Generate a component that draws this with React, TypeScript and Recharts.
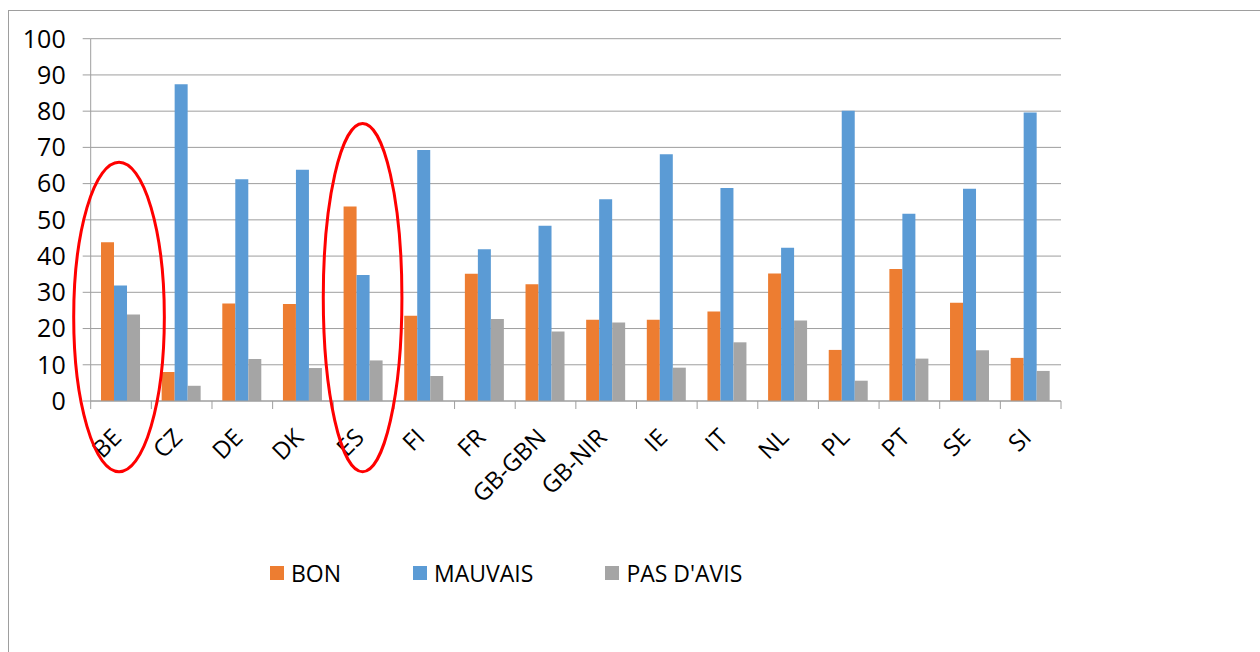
import { BarChart, Bar, XAxis, YAxis, CartesianGrid, Legend, ReferenceArea } from "recharts"

const categories = ["BE", "CZ", "DE", "DK", "ES", "FI", "FR", "GB-GBN", "GB-NIR", "IE", "IT", "NL", "PL", "PT", "SE", "SI"]
const bon = [43.8, 8, 26.9, 26.8, 53.7, 23.5, 35.1, 32.2, 22.4, 22.4, 24.7, 35.2, 14.1, 36.4, 27.1, 11.9]
const mauvais = [31.9, 87.4, 61.2, 63.8, 34.8, 69.3, 41.9, 48.4, 55.7, 68.1, 58.8, 42.3, 80.1, 51.7, 58.6, 79.6]
const pasDAvis = [23.9, 4.2, 11.6, 9.1, 11.2, 6.9, 22.6, 19.2, 21.7, 9.2, 16.2, 22.2, 5.6, 11.7, 14, 8.3]
const yTicks = [0, 10, 20, 30, 40, 50, 60, 70, 80, 90, 100]

// red circled annotations: category, value range covered, extra half-width in px
const highlights = [
  { cat: "BE", from: -19.5, to: 65.9, pad: 15, shift: -2 },
  { cat: "ES", from: -19.5, to: 76.6, pad: 9, shift: -1 },
]

const series = [
  { key: "bon", name: "BON", color: "#ED7D31" },
  { key: "mauvais", name: "MAUVAIS", color: "#5B9BD5" },
  { key: "pas", name: "PAS D'AVIS", color: "#A5A5A5" },
]

const data = categories.map((c, i) => ({ cat: c, bon: bon[i], mauvais: mauvais[i], pas: pasDAvis[i] }))

const FONT = "'Open Sans', 'Liberation Sans', sans-serif"
const LINE = "#9e9e9e"

function CategoryTick({ x, y, payload, index }: any) {
  const half = payload.offset || 0
  const ax = x + 2
  const ay = y + 38
  const isLast = index === categories.length - 1
  return (
    <g>
      <line x1={x - half} y1={y} x2={x - half} y2={y + 8} stroke={LINE} />
      {isLast && <line x1={x + half} y1={y} x2={x + half} y2={y + 8} stroke={LINE} />}
      <text
        x={ax}
        y={ay}
        transform={`rotate(-45, ${ax}, ${ay})`}
        textAnchor="end"
        fontSize={24}
        fontFamily={FONT}
        fill="#000"
      >
        {payload.value}
      </text>
    </g>
  )
}

function Ellipse({ x, y, width, height, pad, shift }: any) {
  return (
    <ellipse
      cx={x + width / 2 + shift}
      cy={y + height / 2}
      rx={width / 2 + pad}
      ry={height / 2}
      fill="none"
      stroke="#ff0000"
      strokeWidth={3}
    />
  )
}

function LegendContent() {
  return (
    <div style={{ display: "flex", alignItems: "center", fontFamily: FONT, whiteSpace: "nowrap" }}>
      {series.map((s) => (
        <div key={s.key} style={{ display: "flex", alignItems: "center", marginRight: 72 }}>
          <span style={{ width: 14, height: 14, background: s.color, marginRight: 7, display: "inline-block" }} />
          <span style={{ fontSize: 23, color: "#000", lineHeight: "28px" }}>{s.name}</span>
        </div>
      ))}
    </div>
  )
}

export default function App() {
  return (
    <div style={{ position: "absolute", left: 0, top: 0, width: 1260, height: 652, overflow: "hidden", background: "#fff" }}>
      <div
        style={{
          position: "absolute",
          left: 8,
          top: 10,
          width: 1300,
          height: 700,
          borderLeft: `1px solid ${LINE}`,
          borderTop: `1px solid ${LINE}`,
        }}
      />
      <BarChart
        width={1260}
        height={652}
        data={data}
        margin={{ top: 38.7, right: 199, left: 0, bottom: 171 }}
        barCategoryGap="17%"
        barGap={0}
        style={{ position: "absolute", left: 0, top: 0 }}
      >
        <CartesianGrid vertical={false} stroke={LINE} strokeWidth={1} />
        <XAxis
          dataKey="cat"
          height={80}
          interval={0}
          tickSize={0}
          tickMargin={0}
          tickLine={false}
          axisLine={{ stroke: LINE }}
          tick={<CategoryTick />}
        />
        <YAxis
          width={90.7}
          domain={[0, 100]}
          ticks={yTicks}
          interval={0}
          tickSize={8}
          tickMargin={17}
          tickLine={{ stroke: LINE }}
          axisLine={{ stroke: LINE }}
          tick={{ fontSize: 25, fontFamily: FONT, fill: "#000" }}
        />
        <Legend
          layout="horizontal"
          verticalAlign="middle"
          content={<LegendContent />}
          wrapperStyle={{ position: "absolute", left: 270, top: 559, width: "auto", height: "auto" }}
        />
        {series.map((s) => (
          <Bar key={s.key} dataKey={s.key} name={s.name} fill={s.color} isAnimationActive={false} />
        ))}
        {highlights.map((h) => (
          <ReferenceArea
            key={h.cat}
            x1={h.cat}
            x2={h.cat}
            y1={h.from}
            y2={h.to}
            ifOverflow="visible"
            zIndex={2000}
            shape={(p: any) => <Ellipse {...p} pad={h.pad} shift={h.shift} />}
          />
        ))}
      </BarChart>
    </div>
  )
}
